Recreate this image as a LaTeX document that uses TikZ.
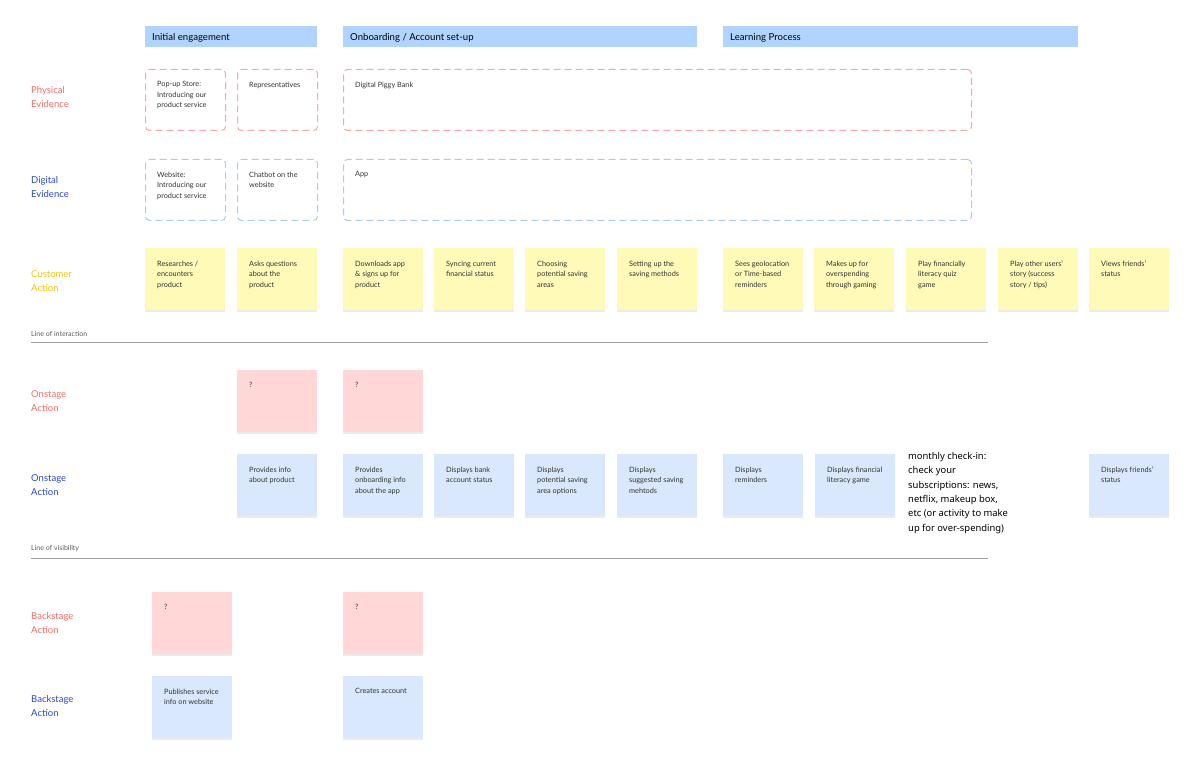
\documentclass[tikz,border=0pt]{standalone}
\usepackage{fontspec}
\setmainfont{Lato}
\newfontfamily\notesans{Noto Sans}
\usetikzlibrary{shadows}

\definecolor{phaseblue}{HTML}{B1D4FE}
\definecolor{labred}{HTML}{F26B6B}
\definecolor{labblue}{HTML}{2A48D0}
\definecolor{labyellow}{HTML}{F6C300}
\definecolor{evidred}{HTML}{F7A9A9}
\definecolor{evidblue}{HTML}{A9CCF7}
\definecolor{noteyellow}{HTML}{FFFAB8}
\definecolor{notepink}{HTML}{FFD7D7}
\definecolor{noteblue}{HTML}{D9E8FC}
\definecolor{linegrey}{HTML}{A0A0A0}
\definecolor{inkgrey}{HTML}{333333}

\begin{document}
\begin{tikzpicture}[x=1pt, y=-1pt,
    phase/.style={anchor=north west, fill=phaseblue, minimum height=21pt, inner sep=0pt},
    phasetext/.style={anchor=west, inner sep=0pt, xshift=7pt, yshift=-1pt, font=\fontsize{9.6}{11}\selectfont},
    lanelabel/.style={anchor=west, align=left, inner sep=0pt, font=\fontsize{9.5}{14}\selectfont},
    evid/.style={anchor=north west, draw, dash pattern=on 7pt off 4pt, line width=1pt, rounded corners=4pt, minimum height=61pt, inner sep=0pt},
    sticky/.style={anchor=north west, minimum width=80pt, minimum height=62pt, inner sep=0pt, drop shadow={shadow xshift=0pt, shadow yshift=-1.5pt, fill=black, opacity=.08}},
    notetext/.style={anchor=north west, align=left, inner sep=0pt, xshift=12pt, yshift=-12.5pt, text=inkgrey, font=\fontsize{7.3}{10.5}\selectfont},
    lineof/.style={anchor=south west, inner sep=0pt, text=inkgrey!80, font=\fontsize{7}{8}\selectfont},
    sepline/.style={draw=linegrey, line width=1pt}]

	\useasboundingbox (0,0) rectangle (1200,775);

	% phases on top
	\node[phase, minimum width=172pt, label={[phasetext]west:Initial engagement}] (p1) at (145,26) {};
	\node[phase, minimum width=354pt, label={[phasetext]west:Onboarding / Account set-up}] (p2) at (343,26) {};
	\node[phase, minimum width=355pt, label={[phasetext]west:Learning Process}] (p3) at (723,26) {};

	% lane labels
	\node[lanelabel, text=labred] (l1) at (31,97) {Physical\\Evidence};
	\node[lanelabel, text=labblue] (l2) at (31,187) {Digital\\Evidence};
	\node[lanelabel, text=labyellow] (l3) at (31,281) {Customer\\Action};
	\node[lanelabel, text=labred] (l4) at (31,401) {Onstage\\Action};
	\node[lanelabel, text=labblue] (l5) at (31,485) {Onstage\\Action};
	\node[lanelabel, text=labred] (l6) at (31,623) {Backstage\\Action};
	\node[lanelabel, text=labblue] (l7) at (31,706) {Backstage\\Action};

	% physical and digital evidence
	\node[evid, draw=evidred, minimum width=80pt, label={[notetext]north west:Pop-up Store:\\Introducing our\\product service}] (pe1) at (145,69) {};
	\node[evid, draw=evidred, minimum width=80pt, label={[notetext]north west:Representatives}] (pe2) at (237,69) {};
	\node[evid, draw=evidred, minimum width=628pt, label={[notetext]north west:Digital Piggy Bank}] (pe3) at (343,69) {};

	\node[evid, draw=evidblue, minimum width=80pt, label={[notetext]north west:Website:\\Introducing our\\product service}] (de1) at (145,159) {};
	\node[evid, draw=evidblue, minimum width=80pt, label={[notetext]north west:Chatbot on the\\website}] (de2) at (237,159) {};
	\node[evid, draw=evidblue, minimum width=628pt, label={[notetext]north west:App}] (de3) at (343,159) {};

	% customer actions
	\foreach \n/\x/\t in {ca1/145/{Researches /\\encounters\\product}, ca2/237/{Asks questions\\about the\\product},
		ca3/343/{Downloads app\\\& signs up for\\product}, ca4/434/{Syncing current\\financial status},
		ca5/525/{Choosing\\potential saving\\areas}, ca6/617/{Setting up the\\saving methods},
		ca7/723/{Sees geolocation\\or Time-based\\reminders}, ca8/814/{Makes up for\\overspending\\through gaming},
		ca9/906/{Play financially\\literacy quiz\\game}, ca10/998/{Play other users'\\story (success\\story / tips)},
		ca11/1089/{Views friends'\\status}}
		\node[sticky, fill=noteyellow, label={[notetext]north west:\t}] (\n) at (\x,248) {};

	% line of interaction
	\node[lineof] (loi) at (31,337) {Line of interaction};
	\coordinate (loia) at (31,343);
	\coordinate (loib) at (988,343);
	\draw[sepline] (loia) -- (loib);

	% onstage
	\foreach \n/\x in {os1/237, os2/343}
		\node[sticky, fill=notepink, label={[notetext]north west:?}] (\n) at (\x,370) {};

	\foreach \n/\x/\t in {ob1/237/{Provides info\\about product}, ob2/343/{Provides\\onboarding info\\about the app},
		ob3/434/{Displays bank\\account status}, ob4/525/{Displays\\potential saving\\area options},
		ob5/617/{Displays\\suggested saving\\mehtods}, ob6/723/{Displays\\reminders},
		ob7/815/{Displays financial\\literacy game}, ob8/1089/{Displays friends'\\status}}
		\node[sticky, fill=noteblue, label={[notetext]north west:\t}] (\n) at (\x,454) {};

	\node[anchor=north west, align=left, inner sep=0pt, font=\notesans\fontsize{9.4}{14.4}\selectfont] (check) at (908,452)
		{monthly check-in:\\check your\\subscriptions: news,\\netflix, makeup box,\\etc (or activity to make\\up for over-spending)};

	% line of visibility
	\node[lineof] (lov) at (31,552) {Line of visibility};
	\coordinate (lova) at (31,558);
	\coordinate (lovb) at (988,558);
	\draw[sepline] (lova) -- (lovb);

	% backstage
	\foreach \n/\x in {bs1/152, bs2/343}
		\node[sticky, fill=notepink, label={[notetext]north west:?}] (\n) at (\x,592) {};
	\node[sticky, fill=noteblue, label={[notetext]north west:Publishes service\\info on website}] (bb1) at (152,676) {};
	\node[sticky, fill=noteblue, label={[notetext]north west:Creates account}] (bb2) at (343,676) {};

\end{tikzpicture}
\end{document}
